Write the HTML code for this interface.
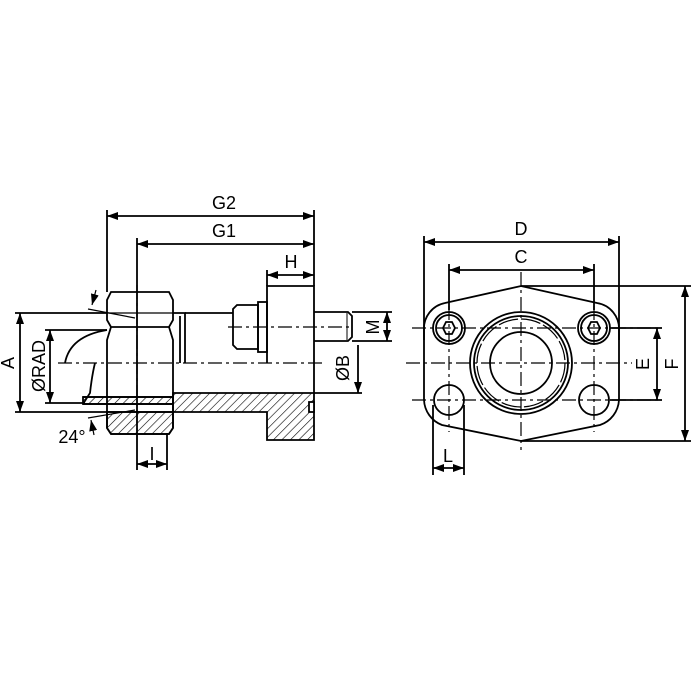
<!DOCTYPE html>
<html><head><style>html,body{margin:0;padding:0;background:#fff}svg{display:block}</style></head><body>
<svg width="700" height="700" viewBox="0 0 700 700" xmlns="http://www.w3.org/2000/svg" font-family="'Liberation Sans', sans-serif">
<defs>
<pattern id="h" width="6" height="6" patternUnits="userSpaceOnUse" patternTransform="rotate(45)"><line x1="0" y1="0" x2="0" y2="6" stroke="#000" stroke-width="1.2"/></pattern>
<marker id="a" markerWidth="11" markerHeight="8" refX="11" refY="4" orient="auto-start-reverse" markerUnits="userSpaceOnUse"><path d="M0,0L11,4L0,8z" fill="#000"/></marker>
</defs>
<g stroke="#000" fill="none" stroke-width="1.8">
<line x1="107" y1="210" x2="107" y2="292"/>
<line x1="137" y1="238" x2="137" y2="470"/>
<line x1="314" y1="210" x2="314" y2="286"/>
<line x1="267" y1="270" x2="267" y2="286"/>
<line x1="167" y1="433" x2="167" y2="470"/>
<line x1="107" y1="216" x2="314" y2="216" marker-start="url(#a)" marker-end="url(#a)"/>
<line x1="137" y1="244" x2="314" y2="244" marker-start="url(#a)" marker-end="url(#a)"/>
<line x1="267" y1="275" x2="314" y2="275" marker-start="url(#a)" marker-end="url(#a)"/>
<line x1="137" y1="464" x2="167" y2="464" marker-start="url(#a)" marker-end="url(#a)"/>
<line x1="20" y1="313" x2="20" y2="412" marker-start="url(#a)" marker-end="url(#a)"/>
<line x1="50" y1="330" x2="50" y2="403" marker-start="url(#a)" marker-end="url(#a)"/>
<line x1="387" y1="312" x2="387" y2="341" marker-start="url(#a)" marker-end="url(#a)"/>
<line x1="358" y1="345" x2="358" y2="393" marker-end="url(#a)"/>
<line x1="15" y1="313" x2="107" y2="313"/>
<line x1="15" y1="412" x2="107" y2="412"/>
<line x1="45" y1="330" x2="107" y2="330"/>
<line x1="45" y1="403" x2="85" y2="403"/>
<line x1="352" y1="312" x2="392" y2="312"/>
<line x1="352" y1="341" x2="392" y2="341"/>
<line x1="314" y1="393" x2="362" y2="393"/>
<line x1="88" y1="309" x2="135" y2="318" stroke-width="1.2"/>
<line x1="96" y1="290" x2="92" y2="305" marker-end="url(#a)" stroke-width="1.2"/>
<line x1="88" y1="418" x2="135" y2="410" stroke-width="1.2"/>
<line x1="94" y1="435" x2="91" y2="420" marker-end="url(#a)" stroke-width="1.2"/>
<rect x="83" y="397" width="90" height="7" fill="url(#h)"/>
<path d="M107,412 L173,412 L173,428 L169,434 L111,434 L107,428 Z" fill="url(#h)"/>
<path d="M173,393 L314,393 L314,440 L267,440 L267,412 L173,412 Z" fill="url(#h)"/>
<rect x="309" y="402" width="5" height="10" fill="#fff"/>
<path d="M111,292 L169,292 L173,300 L173,320 L169,327 L111,327 L107,320 L107,300 Z"/>
<line x1="107" y1="313" x2="173" y2="313" stroke-width="1.2"/>
<path d="M111,327 L107,340 L107,428 L111,434 L169,434 L173,428 L173,340 L169,327"/>
<line x1="107" y1="412" x2="173" y2="412"/>
<path d="M83,404 L90,393 Q92,375 95,363 M65,363 Q70,336 107,330"/>
<line x1="83" y1="397" x2="173" y2="397"/>
<line x1="83" y1="404" x2="173" y2="404"/>
<path d="M173,313 L185,313 L185,363"/>
<line x1="180" y1="316" x2="180" y2="363"/>
<line x1="185" y1="313" x2="233" y2="313"/>
<path d="M237,305 L258,305 L258,349 L237,349 L233,345 L233,309 Z"/>
<rect x="258" y="302" width="9" height="50"/>
<path d="M267,363 L267,286 L314,286 L314,393"/>
<path d="M314,312 L348,312 L352,316 L352,337 L348,341 L314,341"/>
<line x1="347" y1="313" x2="347" y2="340" stroke-width="1"/>
</g>
<g stroke="#000" stroke-width="1.2" fill="none" stroke-dasharray="14,4,3,4">
<line x1="58" y1="363" x2="322" y2="363"/>
<line x1="137" y1="285" x2="137" y2="440"/>
<line x1="228" y1="327" x2="352" y2="327"/>
<line x1="406" y1="363" x2="632" y2="363"/>
<line x1="521" y1="272" x2="521" y2="450"/>
<line x1="412" y1="328" x2="661" y2="328"/>
<line x1="412" y1="400" x2="661" y2="400"/>
<line x1="449" y1="306" x2="449" y2="432"/>
<line x1="594" y1="306" x2="594" y2="432"/>
</g>
<g stroke="#000" fill="none" stroke-width="1.8">
<line x1="424" y1="236" x2="424" y2="340"/>
<line x1="619" y1="236" x2="619" y2="340"/>
<line x1="449" y1="264" x2="449" y2="310"/>
<line x1="594" y1="264" x2="594" y2="310"/>
<line x1="424" y1="242" x2="619" y2="242" marker-start="url(#a)" marker-end="url(#a)"/>
<line x1="449" y1="270" x2="594" y2="270" marker-start="url(#a)" marker-end="url(#a)"/>
<line x1="521" y1="286" x2="691" y2="286"/>
<line x1="521" y1="441" x2="691" y2="441"/>
<line x1="610" y1="328" x2="662" y2="328"/>
<line x1="610" y1="400" x2="662" y2="400"/>
<line x1="657" y1="328" x2="657" y2="400" marker-start="url(#a)" marker-end="url(#a)"/>
<line x1="685" y1="286" x2="685" y2="441" marker-start="url(#a)" marker-end="url(#a)"/>
<line x1="433" y1="405" x2="433" y2="475"/>
<line x1="464" y1="405" x2="464" y2="475"/>
<line x1="433" y1="468" x2="464" y2="468" marker-start="url(#a)" marker-end="url(#a)"/>
<path d="M445,303 L521,286 L597,303 A26,26 0 0 1 619,330 L619,400 A28,28 0 0 1 600,425 L521,441 L442,425 A28,28 0 0 1 424,400 L424,330 A26,26 0 0 1 445,303 Z"/>
<circle cx="449" cy="328" r="16"/><circle cx="449" cy="328" r="13"/>
<circle cx="594" cy="328" r="16"/><circle cx="594" cy="328" r="13"/>
<path d="M443,328 L446,322 L452,322 L455,328 L452,334 L446,334 Z"/>
<path d="M588,328 L591,322 L597,322 L600,328 L597,334 L591,334 Z"/>
<circle cx="449" cy="400" r="15"/><circle cx="594" cy="400" r="15"/>
<circle cx="521" cy="363" r="51"/>
<circle cx="521" cy="363" r="47"/>
<circle cx="521" cy="363" r="44" stroke-width="1.2" stroke-dasharray="20,3"/>
<circle cx="521" cy="363" r="31"/>
</g>
<g font-size="18" fill="#000" text-anchor="middle">
<text x="224" y="209">G2</text>
<text x="224" y="237">G1</text>
<text x="291" y="268">H</text>
<text x="152" y="460">I</text>
<text x="72" y="443">24°</text>
<text x="521" y="235">D</text>
<text x="521" y="263">C</text>
<text x="448" y="462">L</text>
<text transform="translate(14,363) rotate(-90)">A</text>
<text transform="translate(45,366) rotate(-90)">ØRAD</text>
<text transform="translate(349,368) rotate(-90)">ØB</text>
<text transform="translate(379,327) rotate(-90)">M</text>
<text transform="translate(649,364) rotate(-90)">E</text>
<text transform="translate(678,364) rotate(-90)">F</text>
</g>
</svg>
</body></html>
